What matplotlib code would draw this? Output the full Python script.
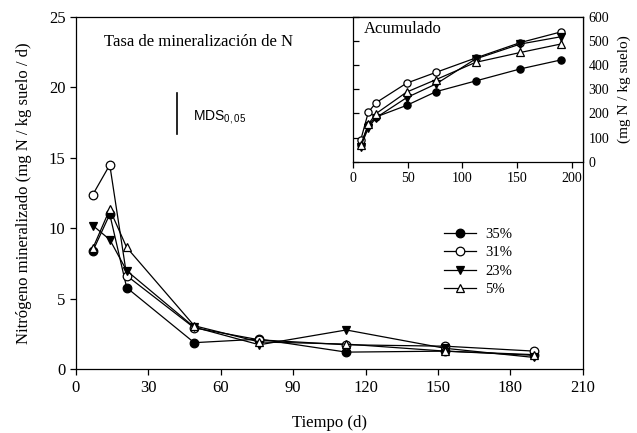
import matplotlib
matplotlib.use("Agg")
import matplotlib.pyplot as plt

plt.rcParams["font.family"] = ["Liberation Serif", "DejaVu Serif"]
plt.rcParams["mathtext.fontset"] = "custom"
plt.rcParams["mathtext.rm"] = "Liberation Sans"
plt.rcParams["mathtext.it"] = "Liberation Sans"

# tiempo (d)
tiempo = [7, 14, 21, 49, 76, 112, 153, 190]

# tasa de mineralizacion (mg N / kg suelo / d)
tasa_35 = [8.4, 11.0, 5.8, 1.9, 2.15, 1.23, 1.3, 1.05]
tasa_31 = [12.4, 14.5, 6.65, 2.95, 2.1, 1.75, 1.65, 1.3]
tasa_23 = [10.2, 9.2, 7.0, 3.0, 1.75, 2.8, 1.5, 0.85]
tasa_5 = [8.6, 11.35, 8.65, 3.1, 1.95, 1.8, 1.3, 1.0]

# acumulado (mg N / kg suelo)
acum_35 = [69, 151, 185, 233, 290, 334, 384, 421]
acum_31 = [89, 205, 244, 325, 370, 429, 493, 537]
acum_23 = [62, 140, 182, 265, 322, 425, 487, 517]
acum_5 = [69, 155, 199, 288, 340, 411, 452, 487]

series = [
    ("35%", "o", "black", tasa_35, acum_35),
    ("31%", "o", "white", tasa_31, acum_31),
    ("23%", "v", "black", tasa_23, acum_23),
    ("5%", "^", "white", tasa_5, acum_5),
]

fig = plt.figure(figsize=(6.37, 4.33), dpi=100)
ax = fig.add_axes([0.1193, 0.1467, 0.7955, 0.8147])

for lab, m, fc, tasa, acum in series:
    ax.plot(tiempo, tasa, color="black", lw=0.9, marker=m, markersize=6.2,
            markerfacecolor=fc, markeredgecolor="black", markeredgewidth=0.9, label=lab)

ax.set_xlim(0, 210)
ax.set_ylim(0, 25)
ax.set_xticks(range(0, 211, 30))
ax.set_yticks(range(0, 26, 5))
ax.tick_params(direction="out", length=4, width=0.9, labelsize=12)
for s in ax.spines.values():
    s.set_linewidth(0.9)
ax.set_xlabel("Tiempo (d)", fontsize=12, labelpad=14)
ax.set_ylabel("Nitrógeno mineralizado (mg N / kg suelo / d)", fontsize=12, labelpad=12)

ax.text(11.7, 23.2, "Tasa de mineralización de N", fontsize=12, va="center", ha="left")
ax.plot([41.7, 41.7], [16.7, 19.6], color="black", lw=1.2)
ax.text(48.5, 17.9, r"MDS$_{0,05}$", fontsize=10, family="Liberation Sans", va="center")

ax.legend(loc="upper left", bbox_to_anchor=(0.715, 0.418), frameon=False, fontsize=10.5,
          handlelength=2.2, handletextpad=0.6, labelspacing=0.35, borderaxespad=0)

# inset acumulado
ins = fig.add_axes([0.5542, 0.6266, 0.3606, 0.3348])
for lab, m, fc, tasa, acum in series:
    ins.plot(tiempo, acum, color="black", lw=0.9, marker=m, markersize=5.2,
             markerfacecolor=fc, markeredgecolor="black", markeredgewidth=0.9)
ins.set_xlim(0, 210)
ins.set_ylim(0, 600)
ins.set_xticks(range(0, 201, 50))
ins.set_yticks(range(0, 601, 100))
ins.tick_params(axis="x", direction="out", length=4, width=0.9, labelsize=10)
ins.tick_params(axis="y", direction="in", length=4, width=0.9, labelsize=10,
                left=True, right=False, labelleft=False, labelright=True, pad=4)
ins.yaxis.set_label_position("right")
ins.set_ylabel("(mg N / kg suelo)", fontsize=11, labelpad=6)
for s in ins.spines.values():
    s.set_linewidth(0.9)
ins.text(9.5, 548, "Acumulado", fontsize=12, va="center", ha="left")

fig.savefig("out.png", dpi=100)
